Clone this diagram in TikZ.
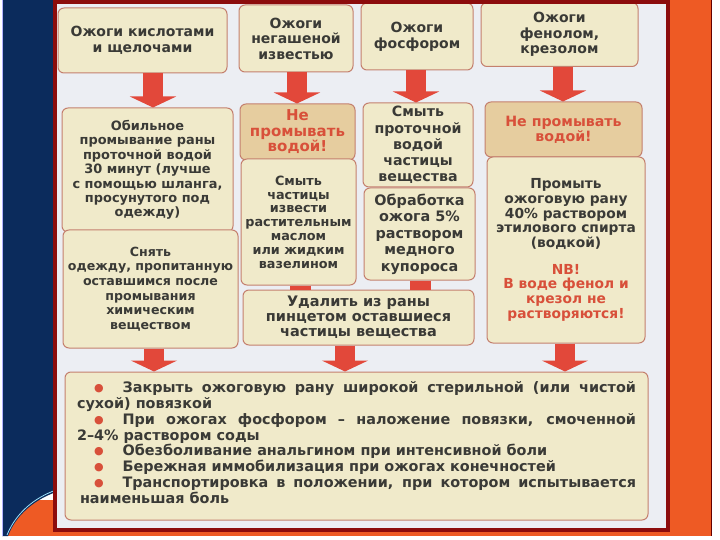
\documentclass[tikz,border=0pt]{standalone}
\usepackage{fontspec}
\setmainfont{DejaVu Sans}
\usetikzlibrary{arrows.meta,calc}
\definecolor{navy}{HTML}{0B2B5C}
\definecolor{orng}{HTML}{EE5A24}
\definecolor{framec}{HTML}{8C0C0C}
\definecolor{page}{HTML}{ECEEF3}
\definecolor{boxfill}{HTML}{F0EACA}
\definecolor{hifill}{HTML}{E6CD9F}
\definecolor{bord}{HTML}{C4806E}
\definecolor{txt}{HTML}{3A3A36}
\definecolor{redtxt}{HTML}{D8503A}
\definecolor{arr}{HTML}{E2483A}
\newcommand\bul{{\color{redtxt}\fontsize{11}{11}\selectfont\raisebox{1pt}{●}}}
\newcommand\fs[2]{\bfseries\fontsize{#1}{#2}\selectfont}
\newcommand\bulline[1]{{\spaceskip=0.3em plus 10em\relax\makebox[559pt][s]{\hspace{17pt}\bul\hspace{19pt}#1}}}
\newcommand\bulstart{\hspace*{17pt}\bul\hspace{19pt}}
\begin{document}
\begin{tikzpicture}[x=1pt,y=-1pt,
  box/.style={draw=bord, fill=boxfill, line width=1pt, rounded corners=6pt,
    align=center, inner sep=0pt, text=txt, font=\fs{14}{16}},
  hibox/.style={box, fill=hifill, text=redtxt},
  flow/.style={draw=arr, line width=20pt, -{Triangle[width=46pt,length=11pt]}},
  stub/.style={draw=arr, line width=21pt}]
\useasboundingbox (0,0) rectangle (720,540);
\fill[white] (0,0) rectangle (720,540);
% orange backdrop
\fill[orng] (655,0) rectangle (712,536);
\fill[orng] (8,500) rectangle (712,536);
\draw[black!60!red, line width=1.5pt] (711.5,0) -- (711.5,536);
% navy side bar
\fill[navy] (2,0) -- (56,0) -- (56,492) .. controls (34,500) and (16,515) .. (8,536) -- (2,536) -- cycle;
\draw[cyan!40!white, line width=0.8pt] (56,490) .. controls (34,498) and (16,513) .. (7,535);
\draw[blue!30!white, line width=1pt] (2.5,0) -- (2.5,536);
% page
\fill[page] (55,2) rectangle (668,530);

% row 1
\node[box, minimum width=169pt, minimum height=65pt] (b1) at (142.5,40.5) {Ожоги кислотами\\и щелочами};
\node[box, minimum width=114pt, minimum height=67pt, font=\fs{14}{15.5}] (b2) at (296,38.5) {Ожоги\\негашеной\\известью};
\node[box, minimum width=112pt, minimum height=67pt] (b3) at (417,36.5) {Ожоги\\фосфором};
\node[box, minimum width=157pt, minimum height=64pt, font=\fs{14}{15.5}] (b4) at (559.5,34.5) {Ожоги\\фенолом,\\крезолом};

% row 2
\node[box, minimum width=171pt, minimum height=124pt, font=\fs{12.9}{14.4}] (c1) at (147.5,170) {Обильное\\промывание раны\\проточной водой\\30 минут (лучше\\с помощью шланга,\\просунутого под\\одежду)};
\node[box, minimum width=175pt, minimum height=118pt, font=\fs{12.6}{14.7}] (c2) at (150.5,289) {Снять\\одежду, пропитанную\\оставшимся после\\промывания\\химическим\\веществом};
\node[hibox, minimum width=115pt, minimum height=56pt, font=\fs{15}{15.5}] (d1) at (297.5,132) {Не\\промывать\\водой!};
\node[box, minimum width=115pt, minimum height=126pt, font=\fs{12.8}{13.8}] (d2) at (298.5,222) {Смыть\\частицы\\извести\\растительным\\маслом\\или жидким\\вазелином};
\node[box, minimum width=110pt, minimum height=84pt, font=\fs{14.2}{16.2}] (e1) at (418,145) {Смыть\\проточной\\водой\\частицы\\вещества};
\node[box, minimum width=111pt, minimum height=92pt, font=\fs{14.4}{16.5}] (e2) at (419.5,234) {Обработка\\ожога 5\%\\раствором\\медного\\купороса};
\node[hibox, minimum width=157pt, minimum height=55pt, font=\fs{14.2}{15}] (f1) at (563.5,129.5) {Не промывать\\водой!};
\node[box, minimum width=158pt, minimum height=186pt, font=\fs{13.8}{14.7}] (f2) at (566,250) {Промыть\\ожоговую рану\\40\% раствором\\этилового спирта\\(водкой)\\[12pt]{\color{redtxt}NB!}\\{\color{redtxt}В воде фенол и}\\{\color{redtxt}крезол не}\\{\color{redtxt}растворяются!}};
\node[box, minimum width=231pt, minimum height=55pt, font=\fs{14.5}{15}] (g) at (358.5,317.5) {Удалить из раны\\пинцетом оставшиеся\\частицы вещества};

% bottom box
\node[box, minimum width=583pt, minimum height=148pt, font=\fs{14.4}{15.8}] (h) at (356.5,446) {%
\raisebox{0pt}[\height][\dimexpr\depth+7pt\relax]{\parbox{559pt}{\raggedright
\bulline{Закрыть ожоговую рану широкой стерильной (или чистой}\\
сухой) повязкой\\
\bulline{При ожогах фосфором – наложение повязки, смоченной}\\
2–4\% раствором соды\\
\bulstart Обезболивание анальгином при интенсивной боли\\
\bulstart Бережная иммобилизация при ожогах конечностей\\
\bulline{Транспортировка в положении, при котором испытывается}\\
\hspace*{3pt}наименьшая боль}}};

% arrow columns
\coordinate (x1) at (153,0);
\coordinate (x2) at (297,0);
\coordinate (x3) at (416,0);
\coordinate (x4) at (563,0);
\coordinate (x5) at (154,0);
\coordinate (x6) at (345,0);
\coordinate (x7) at (565,0);
\coordinate (s1) at (300,0);
\coordinate (s2) at (420,0);
\draw[flow] (b1.south -| x1) -- (c1.north -| x1);
\draw[flow] (b2.south -| x2) -- (d1.north -| x2);
\draw[flow] (b3.south -| x3) -- (e1.north -| x3);
\draw[flow] (b4.south -| x4) -- (f1.north -| x4);
\draw[flow] (c2.south -| x5) -- (h.north -| x5);
\draw[flow] (g.south -| x6) -- (h.north -| x6);
\draw[flow] (f2.south -| x7) -- (h.north -| x7);
\draw[stub] (d2.south -| s1) -- (g.north -| s1);
\draw[stub] (e2.south -| s2) -- (g.north -| s2);

% frame
\draw[framec, line width=4pt] (55,2) rectangle (668,530);
\end{tikzpicture}
\end{document}
